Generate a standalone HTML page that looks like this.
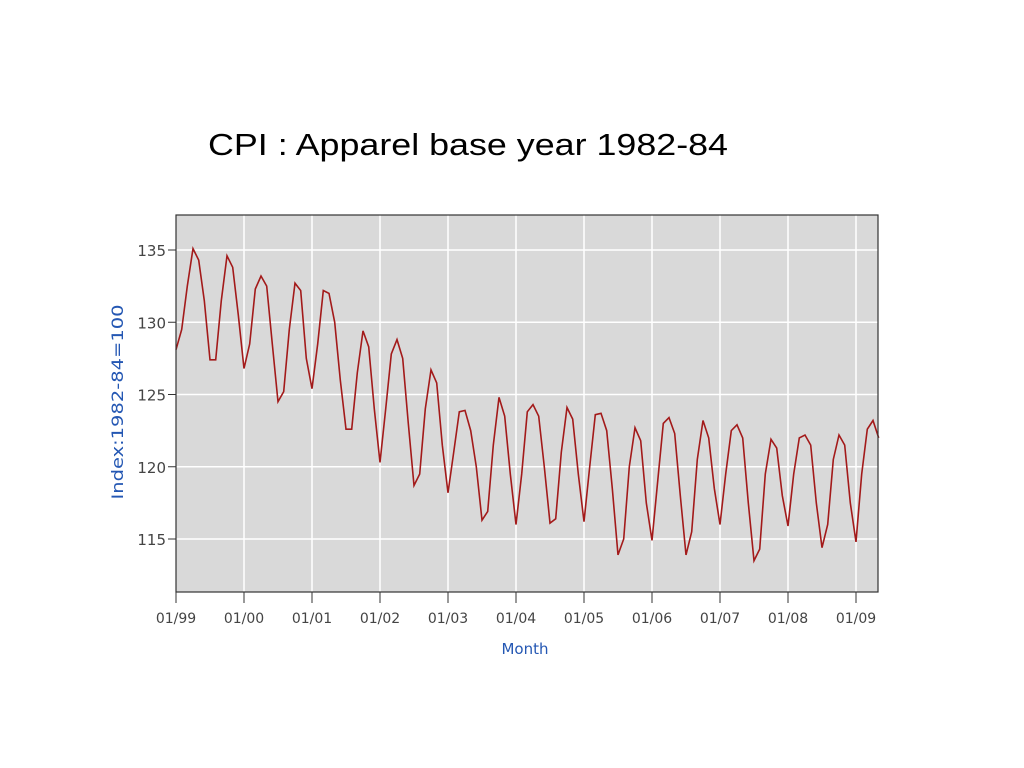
<!DOCTYPE html>
<html><head><meta charset="utf-8"><style>
html,body{margin:0;padding:0;background:#fff;}
svg{display:block;}
</style></head><body>
<svg width="1024" height="768">
<text x="208" y="155" textLength="520" lengthAdjust="spacingAndGlyphs" font-family="Liberation Sans, sans-serif" font-size="31" fill="#000">CPI  : Apparel base year 1982-84</text>
<rect x="176" y="215" width="702" height="377" fill="#d9d9d9"/>
<g id="grid"></g>
<g id="axes"></g>
<path id="line" fill="none" stroke="#a31a1a" stroke-width="1.6"/>
<rect x="176" y="215" width="702" height="377" fill="none" stroke="#333" stroke-width="1.2"/>
<text x="123" y="402" transform="rotate(-90 123 402)" text-anchor="middle" textLength="195" lengthAdjust="spacingAndGlyphs" font-family="DejaVu Sans, sans-serif" font-size="16" fill="#2457b3">Index:1982-84=100</text>
<text x="525" y="654" text-anchor="middle" font-family="DejaVu Sans, sans-serif" font-size="15" fill="#2457b3">Month</text>
</svg>
<script>
const yearLabels = ["01/99","01/00","01/01","01/02","01/03","01/04","01/05","01/06","01/07","01/08","01/09"];
const yTicks = [115,120,125,130,135];
const v1999 = [128.1,129.5,132.5,135.1,134.3,131.5,127.4,127.4,131.5,134.6,133.8,130.5];
const v2000 = [126.8,128.5,132.3,133.2,132.5,128.5,124.5,125.2,129.5,132.7,132.2,127.5];
const v2001 = [125.4,128.5,132.2,132.0,130.0,126.0,122.6,122.6,126.5,129.4,128.3,124.0];
const v2002 = [120.3,124.0,127.8,128.8,127.5,123.0,118.7,119.5,124.0,126.7,125.8,121.5];
const v2003 = [118.2,121.0,123.8,123.9,122.5,120.0,116.3,116.9,121.5,124.8,123.5,119.5];
const v2004 = [116.0,119.5,123.8,124.3,123.5,120.0,116.1,116.4,121.0,124.1,123.3,119.5];
const v2005 = [116.2,120.0,123.6,123.7,122.5,118.5,113.9,115.0,120.0,122.7,121.8,117.5];
const v2006 = [114.9,119.0,123.0,123.4,122.3,118.0,113.9,115.5,120.5,123.2,122.0,118.5];
const v2007 = [116.0,119.5,122.5,122.9,122.0,117.5,113.5,114.3,119.5,121.9,121.3,118.0];
const v2008 = [115.9,119.5,122.0,122.2,121.5,117.5,114.4,116.0,120.5,122.2,121.5,117.5];
const v2009 = [114.8,119.5,122.6,123.2,122.0];
const values = [].concat(v1999,v2000,v2001,v2002,v2003,v2004,v2005,v2006,v2007,v2008,v2009);

const NS="http://www.w3.org/2000/svg";
const X0=176, monthW=(856-176)/120;
const xScale=i=>X0+i*monthW;
const yScale=v=>250+(135-v)*(539-250)/20;
const grid=document.getElementById('grid'), axes=document.getElementById('axes');
function mk(tag,attrs,parent){const e=document.createElementNS(NS,tag);for(const k in attrs)e.setAttribute(k,attrs[k]);parent.appendChild(e);return e;}
yearLabels.forEach((lab,i)=>{
  const x=xScale(i*12);
  if(i>0){const g=mk('line',{x1:x,x2:x,y1:215,y2:592,stroke:'#fff','stroke-width':1.5},grid);
  
  }
  const t=mk('line',{x1:x,x2:x,y1:592,y2:603,stroke:'#333','stroke-width':1},axes);
  
  
  const tx=mk('text',{x:x,y:623,'text-anchor':'middle','font-family':'DejaVu Sans, sans-serif','font-size':14,fill:'#444'},axes);
  tx.textContent=lab;
  
  
});
yTicks.forEach(v=>{
  const y=yScale(v);
  const g=mk('line',{x1:176,x2:878,y1:y,y2:y,stroke:'#fff','stroke-width':1.5},grid);
  
  
  const t=mk('line',{x1:168,x2:176,y1:y,y2:y,stroke:'#333','stroke-width':1},axes);
  
  
  const tx=mk('text',{x:166,y:y+6,'text-anchor':'end','font-family':'DejaVu Sans, sans-serif','font-size':15,fill:'#444'},axes);
  tx.textContent=v;
  
  
});
document.getElementById('line').setAttribute('d',values.map((v,i)=>(i?'L':'M')+xScale(i).toFixed(1)+','+yScale(v).toFixed(1)).join(''));
</script>
</body></html>
